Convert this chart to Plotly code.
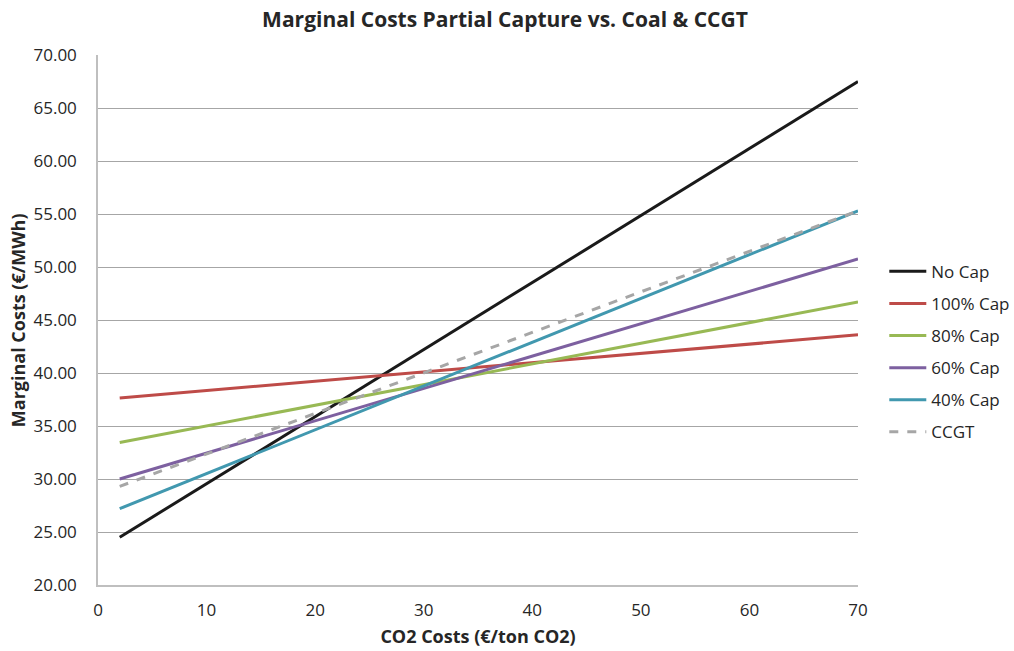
import plotly.graph_objects as go

co2_cost = [2, 70]
series_names = ["No Cap", "100% Cap", "80% Cap", "60% Cap", "40% Cap", "CCGT"]
no_cap = [24.5, 67.5]
cap_100 = [37.65, 43.6]
cap_80 = [33.45, 46.7]
cap_60 = [30.0, 50.75]
cap_40 = [27.2, 55.3]
ccgt = [29.3, 55.3]
x_ticks = [0, 10, 20, 30, 40, 50, 60, 70]
y_ticks = [20, 25, 30, 35, 40, 45, 50, 55, 60, 65, 70]

values = [no_cap, cap_100, cap_80, cap_60, cap_40, ccgt]
colors = ["#1a1a1a", "#be4b48", "#98b954", "#7d60a0", "#4198af", "#a6a6a6"]
dashes = ["solid"] * 5 + ["dash"]

fig = go.Figure()
for i, (name, vals, col, d) in enumerate(zip(series_names, values, colors, dashes)):
    fig.add_trace(go.Scatter(x=co2_cost, y=vals, mode="lines", name=name,
                             legendgroup=f"g{i}",
                             line=dict(color=col, width=3, dash=d)))

font_family = "Open Sans, Noto Sans, sans-serif"
fig.update_layout(
    width=1014, height=651,
    margin=dict(l=98, r=156, t=55, b=66, autoexpand=False),
    paper_bgcolor="white", plot_bgcolor="white",
    font=dict(family=font_family, color="#262626", size=17),
    title=dict(text="<b>Marginal Costs Partial Capture vs. Coal &amp; CCGT</b>",
               x=0.498, xanchor="center", y=0.9705, yanchor="middle",
               font=dict(size=21, color="#262626")),
    showlegend=True,
    legend=dict(x=1.0346, xanchor="left", y=0.44, yanchor="middle",
                font=dict(size=17), tracegroupgap=7, itemwidth=37,
                bgcolor="rgba(0,0,0,0)"),
    xaxis=dict(range=[0, 70], tickvals=x_ticks, ticktext=[str(v) for v in x_ticks],
               showgrid=False, zeroline=False, showline=True, linecolor="#bfbfbf",
               linewidth=1.5, ticks="", ticklabelstandoff=9, automargin=False,
               tickfont=dict(size=17),
               title=dict(text="<b>CO2 Costs (€/ton CO2)</b>", font=dict(size=18), standoff=10)),
    yaxis=dict(range=[20, 70], tickvals=y_ticks, ticktext=[f"{v:.2f}" for v in y_ticks],
               showgrid=True, gridcolor="#a6a6a6", gridwidth=1, zeroline=False,
               showline=True, linecolor="#bfbfbf", linewidth=1.5, ticks="",
               ticklabelstandoff=16, automargin=False, tickfont=dict(size=17)),
    annotations=[dict(text="<b>Marginal Costs (€/MWh)</b>", xref="paper", yref="paper",
                      x=-0.105, y=0.5, xanchor="center", yanchor="middle",
                      textangle=-90, showarrow=False,
                      font=dict(size=18, color="#262626"))],
)

# Remove the browser's default 8px body margin so the figure fills the window exactly.
fig.write_html("out.html", config={"displayModeBar": False},
               post_script="document.body.style.margin='0';")
